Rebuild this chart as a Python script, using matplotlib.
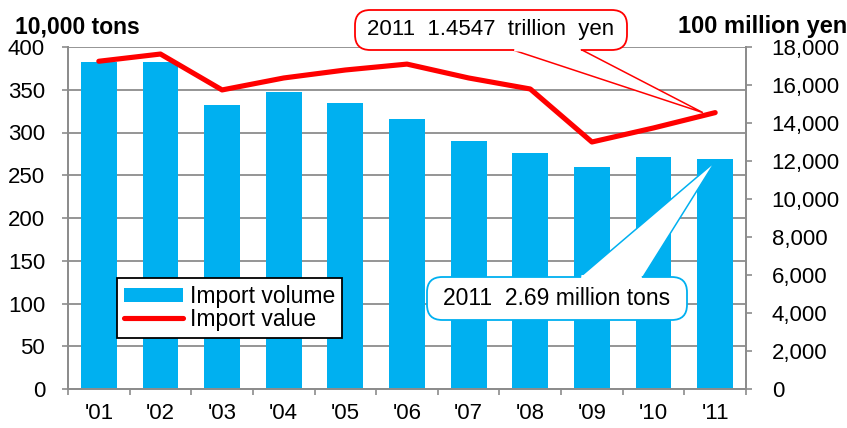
import numpy as np
import matplotlib.pyplot as plt
from matplotlib.patches import FancyBboxPatch, Polygon

plt.rcParams['font.family'] = ['Liberation Sans', 'DejaVu Sans']

# data
years = ["'01", "'02", "'03", "'04", "'05", "'06", "'07", "'08", "'09", "'10", "'11"]
volume = [382, 382, 332, 347, 334, 316, 290, 276, 260, 271, 269]  # 10,000 tons
value = [17250, 17630, 15740, 16370, 16790, 17100, 16370, 15790, 13000, 13740, 14547]  # 100 million yen

bar_col = '#00B0F0'
line_col = '#FF0000'
grid_col = '#8C8C8C'

fig = plt.figure(figsize=(8.47, 4.28), dpi=100)
W, H = 847, 428
ax = fig.add_axes([68 / W, 39 / H, 678 / W, 342 / H])
ax2 = ax.twinx()

x = np.arange(len(years))
ax.bar(x, volume, width=0.58, color=bar_col, zorder=2, label='Import volume')
ax2.plot(x, value, color=line_col, lw=3.7, solid_capstyle='round', zorder=3, label='Import value')

ax.set_xlim(-0.5, len(years) - 0.5)
ax.set_ylim(0, 400)
ax2.set_ylim(0, 18000)
ax.set_yticks(np.arange(0, 401, 50))
ax2.set_yticks(np.arange(0, 18001, 2000))
ax2.set_yticklabels([f'{v:,}' for v in range(0, 18001, 2000)])

ax.set_xticks(x)
ax.set_xticklabels(years)
ax.set_xticks(np.arange(-0.5, len(years), 1), minor=True)
ax.tick_params(axis='x', which='major', length=0, pad=10, labelsize=16)
ax.tick_params(axis='x', which='minor', length=4, width=1.2, color=grid_col)
ax.tick_params(axis='y', length=4.5, width=1.2, color=grid_col, labelsize=16, pad=12)
ax2.tick_params(axis='y', length=4.5, width=1.2, color=grid_col, labelsize=16, pad=14)

ax.yaxis.grid(True, color=grid_col, lw=1.3, zorder=0)
ax.set_axisbelow(True)
for a in (ax, ax2):
    a.spines['top'].set_visible(False)
    for s in ('left', 'right', 'bottom'):
        a.spines[s].set_color(grid_col)
        a.spines[s].set_linewidth(1.3)
ax2.patch.set_visible(False)

fig.text(15 / W, 1 - 27 / H, '10,000 tons', fontsize=16.5, fontweight='bold', va='center', ha='left')
fig.text(847 / W, 1 - 27 / H, '100 million yen', fontsize=17, fontweight='bold', va='center', ha='right')

# legend
h1, l1 = ax.get_legend_handles_labels()
h2, l2 = ax2.get_legend_handles_labels()
leg = ax.legend(h1 + h2, l1 + l2, loc='upper left', bbox_to_anchor=(0.072, 0.325),
                fontsize=16.5, frameon=True, fancybox=False, edgecolor='black',
                framealpha=1, handlelength=2.6, handleheight=0.55, labelspacing=0.0,
                borderpad=0.3, handletextpad=0.3, borderaxespad=0)
leg.get_frame().set_linewidth(1.3)
leg.set_zorder(5)


def px(pt):
    # display -> figure pixel coords (top-left origin)
    fx, fy = fig.transFigure.inverted().transform(pt)
    return fx * W, (1 - fy) * H


def callout(box, base, tip, text, ec, fs):
    x0, y0, x1, y1 = box
    tr = fig.transFigure
    to_fig = lambda p: (p[0] / W, 1 - p[1] / H)
    poly = [to_fig(base[0]), to_fig(tip), to_fig(base[1])]
    fig.add_artist(Polygon(poly, closed=True, fc='white', ec=ec, lw=1.1,
                           transform=tr, zorder=6))
    fig.add_artist(FancyBboxPatch(to_fig((x0, y1)), (x1 - x0) / W, (y1 - y0) / H,
                                  boxstyle='round,pad=0,rounding_size=0.018',
                                  fc='white', ec=ec, lw=1.3, transform=tr, zorder=7,
                                  mutation_aspect=W / H))
    # cover border where wedge joins box
    yb = base[0][1]
    inner = [to_fig((base[0][0] + 1.5, yb - 2)), to_fig((base[1][0] - 1.5, yb - 2)),
             to_fig((base[1][0] - 1.0, yb + 1.5)), to_fig((base[0][0] + 1.0, yb + 1.5))]
    fig.add_artist(Polygon(inner, closed=True, fc='white', ec='none', transform=tr, zorder=8))
    fig.text((x0 + x1) / 2 / W, 1 - (y0 + y1) / 2 / H, text, fontsize=fs,
             ha='center', va='center', zorder=9)


fig.canvas.draw()
red_tip = px(ax2.transData.transform((x[-1] - 0.2, value[-1])))
blue_tip = px(ax.transData.transform((x[-1], volume[-1] - 3)))

callout((355, 10, 627, 50), [(513, 50), (582, 50)], red_tip,
        '2011  1.4547  trillion  yen', line_col, 16)
callout((427, 277, 687, 320), [(580, 277), (643, 277)], blue_tip,
        '2011  2.69 million tons', bar_col, 16.5)

fig.savefig('out.png', dpi=100)
